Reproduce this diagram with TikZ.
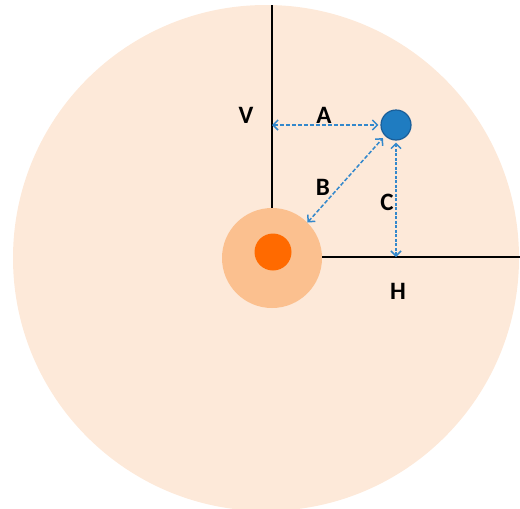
\documentclass[tikz,border=0pt]{standalone}
\usepackage{fontspec}
\setmainfont{Carlito}
\usetikzlibrary{positioning, arrows.meta, calc}

\definecolor{fieldfill}{HTML}{FDE9D9}
\definecolor{ringfill}{HTML}{FBC08F}
\definecolor{corefill}{HTML}{FF6A00}
\definecolor{satfill}{HTML}{1F7CC1}
\definecolor{satdraw}{HTML}{1A5E99}
\definecolor{gapblue}{HTML}{3388CC}

\begin{document}
\begin{tikzpicture}[
    x=1pt, y=-1pt,
    font=\bfseries\fontsize{25}{27}\selectfont,
    disc/.style={circle, inner sep=0pt, draw=none},
    axisline/.style={line width=2pt, black},
    gap/.style={{Straight Barb[length=5pt, width=10pt]}-{Straight Barb[length=5pt, width=10pt]},
        line width=1.5pt, gapblue, dash pattern=on 4pt off 2pt},
    tag/.style={inner sep=0pt, anchor=center}
]
\useasboundingbox (0,0) rectangle (520,509);

%% ─── DISCS ──────────────────────────────────────────────────────────────

\node[disc, fill=fieldfill, minimum size=506pt] (field) at (266,258) {};
\node[disc, fill=ringfill,  minimum size=100pt] (ring)  at (272,258) {};
\node[disc, fill=corefill,  minimum size=37pt]  (core)  at (273,252) {};
\node[disc, fill=satfill, draw=satdraw, line width=1.2pt,
      minimum size=30pt] (sat) at (396,125) {};

%% ─── AXES ───────────────────────────────────────────────────────────────

\coordinate (vtop) at (272,5);
\coordinate (hend) at (520,257);
\coordinate (vfoot) at (272,125);
\coordinate (hfoot) at (396,257);

\draw[axisline] (ring.north) -- (vtop);
\draw[axisline] (ring.east |- hend) -- (hend);

%% ─── DISTANCES ──────────────────────────────────────────────────────────

\draw[gap] (vfoot) -- ($(sat.west)+(-2,0)$);
\draw[gap] (ring.north east) -- ($(sat.south west)+(-2,2)$);
\draw[gap, dash pattern=on 3pt off 1.5pt] ($(sat.south)+(0,2)$) -- (hfoot);

%% ─── LABELS ─────────────────────────────────────────────────────────────

\node[tag] (lv) at (246,115) {V};
\node[tag] (la) at (324,115) {A};
\node[tag] (lb) at (323,187) {B};
\node[tag] (lc) at (387,202) {C};
\node[tag] (lh) at (398,291) {H};

\end{tikzpicture}
\end{document}
